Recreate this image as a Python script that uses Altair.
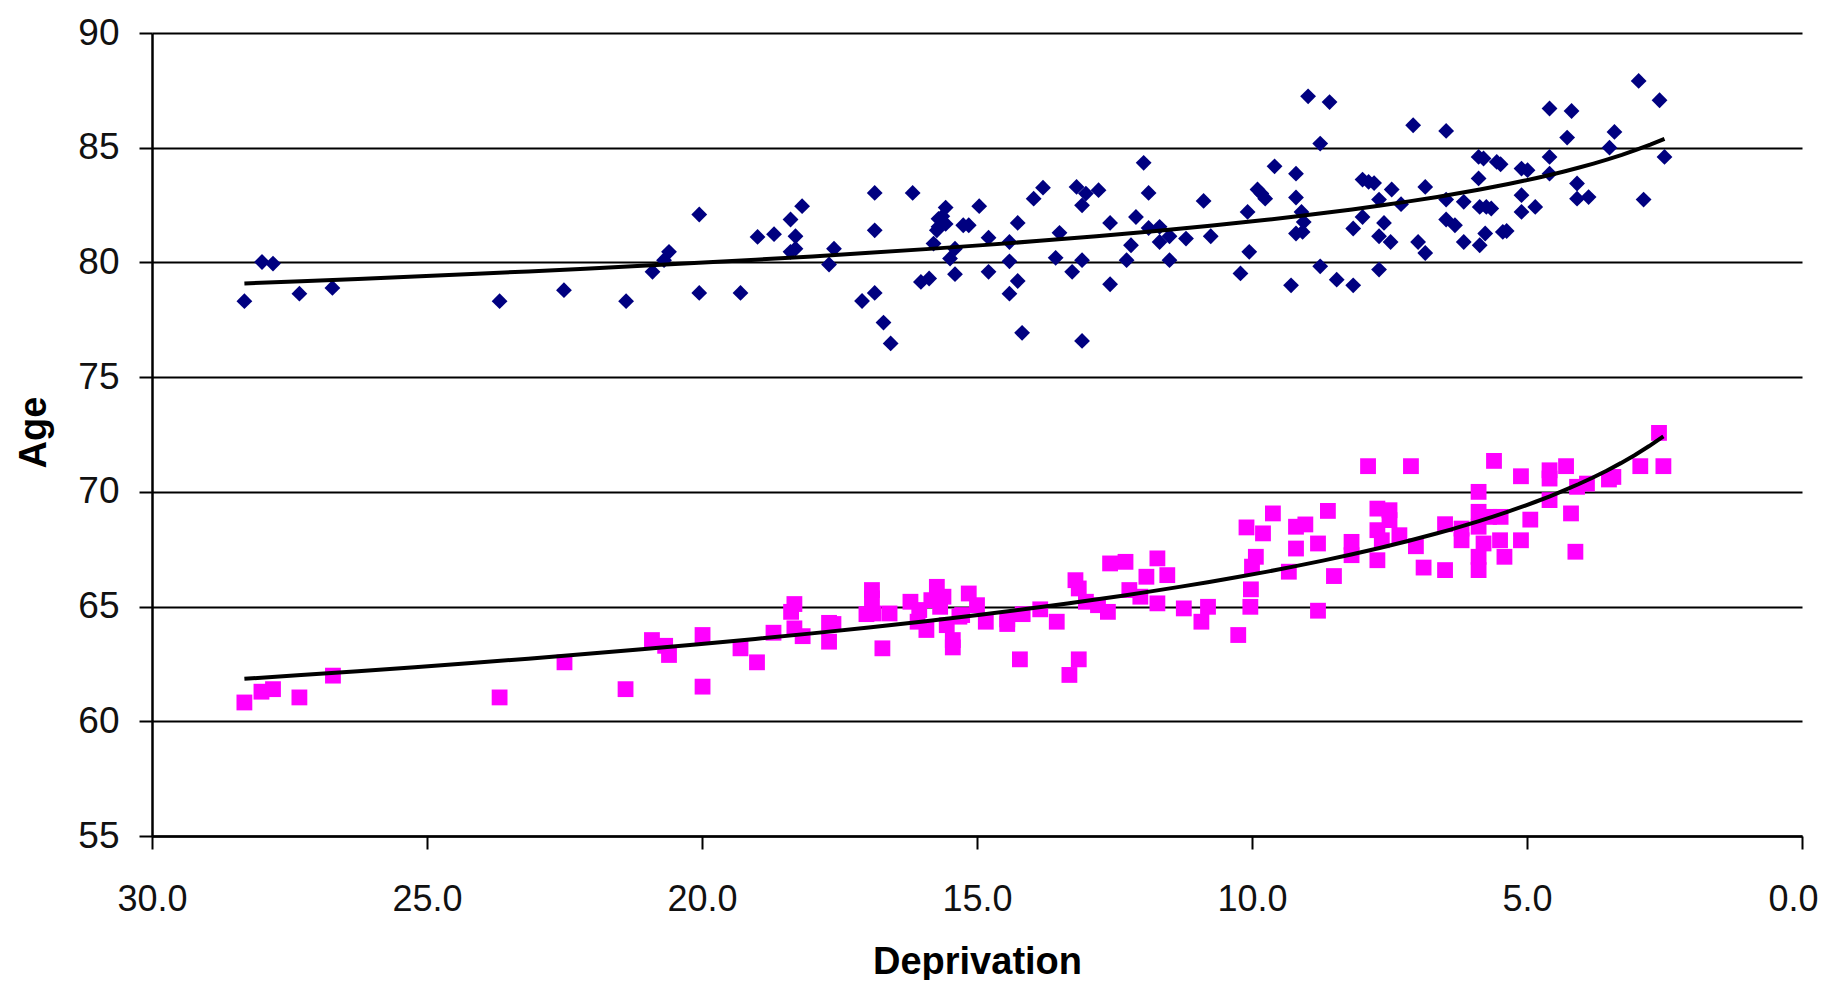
import altair as alt
import pandas as pd

# Blue series (upper group): deprivation score and age
blue_dep = [28.32, 28.00, 27.80, 27.32, 26.72, 23.68, 22.51, 21.38, 20.90, 20.69, 20.60, 20.05, 20.05,
            19.30, 18.99, 18.69, 18.39, 18.18, 18.30, 18.39, 18.30, 17.69, 17.60, 17.09, 16.86, 16.86, 16.86,
            16.70, 16.57, 16.17, 16.02, 15.87, 15.79, 15.70, 15.63, 15.57, 15.70, 15.57, 15.73, 15.49, 15.40,
            15.40, 15.25, 15.15, 14.96, 14.79, 14.79, 14.41, 14.41, 14.26, 14.26, 14.41, 14.18, 13.97, 13.80,
            13.57, 13.50, 13.27, 13.19, 13.09, 13.02, 12.79, 13.09, 13.09, 12.58, 12.58, 12.28, 12.20, 12.11,
            11.97, 11.88, 11.88, 11.68, 11.68, 11.50, 11.50, 11.20, 10.88, 10.75, 10.21, 10.08, 10.05,
            9.90, 9.83, 9.76, 9.59, 9.29, 9.20, 9.20, 9.10, 9.06, 9.20, 9.08, 8.98, 8.76, 8.76, 8.59, 8.46,
            8.16, 8.16, 7.99, 7.99, 7.88, 7.78, 7.69, 7.69, 7.60, 7.69, 7.48, 7.46, 7.29, 7.07, 6.98, 6.85,
            6.85, 6.47, 6.47, 6.47, 6.31, 6.15, 6.15, 5.88, 5.79, 5.88, 5.86, 5.74, 5.65, 5.76, 5.86, 5.55,
            5.48, 5.44, 5.37, 5.10, 4.99, 5.10, 5.10, 4.85, 4.59, 4.59, 4.59, 4.27, 4.19, 4.09, 4.09, 3.88,
            3.50, 3.41, 2.97, 2.88, 2.59, 2.50]
blue_age = [78.31, 80.02, 79.95, 78.64, 78.89, 78.31, 78.79, 78.31, 79.59, 80.10, 80.46, 82.09, 78.67,
            78.67, 81.11, 81.23, 81.87, 82.45, 81.14, 80.46, 80.60, 79.91, 80.60, 78.32, 78.67, 83.03, 81.40,
            77.38, 76.47, 83.03, 79.15, 79.30, 80.82, 81.55, 82.01, 82.39, 81.90, 81.68, 81.40, 80.17, 80.60,
            79.49, 81.62, 81.62, 82.45, 81.08, 79.59, 80.89, 80.05, 81.72, 79.19, 78.64, 76.93, 82.78, 83.26,
            80.20, 81.29, 79.59, 83.29, 82.49, 83.00, 83.15, 80.10, 76.58, 81.72, 79.05, 80.10, 80.75, 81.98,
            84.34, 83.03, 81.50, 81.55, 80.89, 81.14, 80.10, 81.04, 82.68, 81.14, 79.52, 82.20, 80.46,
            83.18, 83.00, 82.78, 84.19, 79.00, 83.87, 82.83, 82.20, 81.76, 81.26, 81.33, 87.24, 85.18, 79.83,
            86.99, 79.25, 81.48, 79.00, 81.98, 83.61, 83.51, 83.46, 82.74, 79.69, 81.72, 81.14, 80.89, 83.18,
            82.54, 85.98, 80.89, 80.41, 83.29, 85.73, 82.74, 81.87, 81.62, 82.64, 80.89, 84.60, 84.53, 83.66,
            82.42, 82.42, 82.35, 81.26, 80.75, 84.38, 84.28, 81.33, 81.37, 84.09, 84.02, 82.93, 82.20, 82.42,
            86.71, 84.60, 83.87, 85.44, 86.60, 83.44, 82.78, 82.85, 85.00, 85.69, 87.91, 82.74, 87.07, 84.60]

# Magenta series (lower group)
pink_dep = [28.32, 28.01, 27.80, 27.32, 26.71, 23.68, 22.50, 21.39, 20.91, 20.67, 20.60, 19.99, 19.99, 19.30,
            19.00, 18.70, 18.38, 18.32, 18.32, 18.17, 17.69, 17.69, 17.61, 17.01, 16.91, 16.91, 16.88, 16.72,
            16.59, 16.21, 16.08, 16.05, 15.92, 15.83, 15.73, 15.61, 15.67, 15.55, 15.44, 15.44, 15.32, 15.27,
            15.15, 15.00, 14.84, 14.45, 14.45, 14.22, 14.17, 13.85, 13.55, 13.32, 13.15, 13.21, 13.15, 13.02,
            12.80, 12.62, 12.58, 12.30, 12.23, 12.03, 11.92, 11.72, 11.72, 11.54, 11.24, 10.92, 10.80, 10.25,
            10.03, 10.00, 10.10, 9.80, 9.62,
            10.02, 9.93, 9.33, 9.20, 9.20, 9.03, 8.80, 8.62, 8.51, 8.80, 8.19, 8.19, 7.89, 7.72, 7.72, 7.64,
            7.72, 7.50, 7.50, 7.32, 7.11, 7.02, 6.88, 6.49, 6.49, 6.19, 6.19, 5.88, 5.88, 5.88, 5.88, 5.88,
            5.79, 5.60, 5.69, 5.48, 5.49, 5.41, 5.11, 5.11, 4.94, 4.59, 4.59, 4.59, 4.29, 4.20, 4.12, 4.09,
            3.91, 3.51, 3.43, 2.94, 2.60, 2.52]
pink_age = [60.82, 61.29, 61.40, 61.04, 61.99, 61.04, 62.57, 61.40, 63.54, 63.29, 62.89, 61.51, 63.76, 63.18,
            62.57, 63.86, 64.77, 65.11, 64.05, 63.71, 64.29, 63.47, 64.24, 64.67, 65.36, 65.72, 64.70, 63.18,
            64.70, 65.21, 64.34, 64.85, 63.98, 65.28, 65.86, 65.43, 64.99, 64.19, 63.54, 63.22, 64.56, 64.63,
            65.57, 65.06, 64.34, 64.44, 64.24, 62.70, 64.67, 64.88, 64.34, 62.02, 62.70, 66.15, 65.79, 65.21,
            65.06, 64.77, 66.88, 66.95, 65.72, 65.43, 66.30, 67.10, 65.14, 66.37, 64.92, 64.34, 64.99, 63.76,
            64.99, 66.74, 68.45, 68.19, 69.06,
            65.75, 67.17, 66.52, 68.48, 67.53, 68.58, 67.75, 69.17, 66.33, 64.82, 67.82, 67.24, 71.12, 69.27,
            68.33, 67.89, 67.02, 69.20, 68.77, 68.11, 71.12, 67.63, 66.70, 68.59, 66.59, 68.40, 67.89, 70.00,
            69.13, 68.48, 67.17, 66.59, 67.75, 71.35, 68.91, 68.91, 67.89, 67.17, 70.68, 67.89, 68.79, 70.94,
            70.58, 69.64, 71.12, 69.06, 67.39, 70.22, 70.36, 70.54, 70.65, 71.12, 72.57, 71.12]

series_names = ["upper", "lower"]
series_colors = ["#000080", "#FF00FF"]
series_shapes = ["diamond", "square"]

x_ticks = [0, 5, 10, 15, 20, 25, 30]
y_ticks = [55, 60, 65, 70, 75, 80, 85, 90]

df = pd.concat([
    pd.DataFrame({"dep": blue_dep, "age": blue_age, "series": series_names[0]}),
    pd.DataFrame({"dep": pink_dep, "age": pink_age, "series": series_names[1]}),
], ignore_index=True)

label_font = "Liberation Sans, Arial, sans-serif"
title_font = "Liberation Sans, Arial, sans-serif"

x_enc = alt.X(
    "dep:Q",
    scale=alt.Scale(domain=[0, 30], reverse=True, nice=False, zero=False),
    axis=alt.Axis(
        values=x_ticks, format=".1f", grid=False,
        domainColor="black", domainWidth=2.5,
        tickColor="black", tickWidth=2, tickSize=13,
        labelFont=label_font, labelFontSize=36, labelColor="#111111",
        labelPadding=33, labelFlush=False,
        labelOffset=alt.expr("datum.value == 0 ? -9 : 0"),
        title="Deprivation", titleFont=title_font, titleFontSize=38,
        titleFontWeight="bold", titleColor="black",
        titleX=825, titleY=137, titleAlign="center", titleBaseline="alphabetic",
    ),
)
y_enc = alt.Y(
    "age:Q",
    scale=alt.Scale(domain=[55, 90], nice=False, zero=False),
    axis=alt.Axis(
        values=y_ticks, format="d", grid=True,
        gridColor="black", gridWidth=2,
        domainColor="black", domainWidth=2.5,
        tickColor="black", tickWidth=2, tickSize=13,
        labelFont=label_font, labelFontSize=37, labelColor="#111111",
        labelPadding=20, labelFlush=False,
        title="Age", titleFont=title_font, titleFontSize=38,
        titleFontWeight="bold", titleColor="black",
        titleAngle=270, titleX=-107, titleY=399,
        titleAlign="center", titleBaseline="alphabetic",
    ),
)

points = alt.Chart(df).mark_point(filled=True, size=250, opacity=1).encode(
    x=x_enc,
    y=y_enc,
    color=alt.Color("series:N", scale=alt.Scale(domain=series_names, range=series_colors), legend=None),
    shape=alt.Shape("series:N", scale=alt.Scale(domain=series_names, range=series_shapes), legend=None),
)

trend = alt.Chart(df).transform_regression(
    "dep", "age", method="log", groupby=["series"]
).mark_line(color="black", strokeWidth=4).encode(
    x="dep:Q",
    y="age:Q",
    detail="series:N",
)

chart = alt.layer(points, trend).properties(
    width=1650,
    height=803,
    padding={"left": 144, "top": 25, "right": 20, "bottom": 144},
    autosize=alt.AutoSizeParams(type="none"),
    background="white",
).configure_view(stroke=None)

chart.save("out.html", embed_options={"renderer": "svg", "actions": False})
